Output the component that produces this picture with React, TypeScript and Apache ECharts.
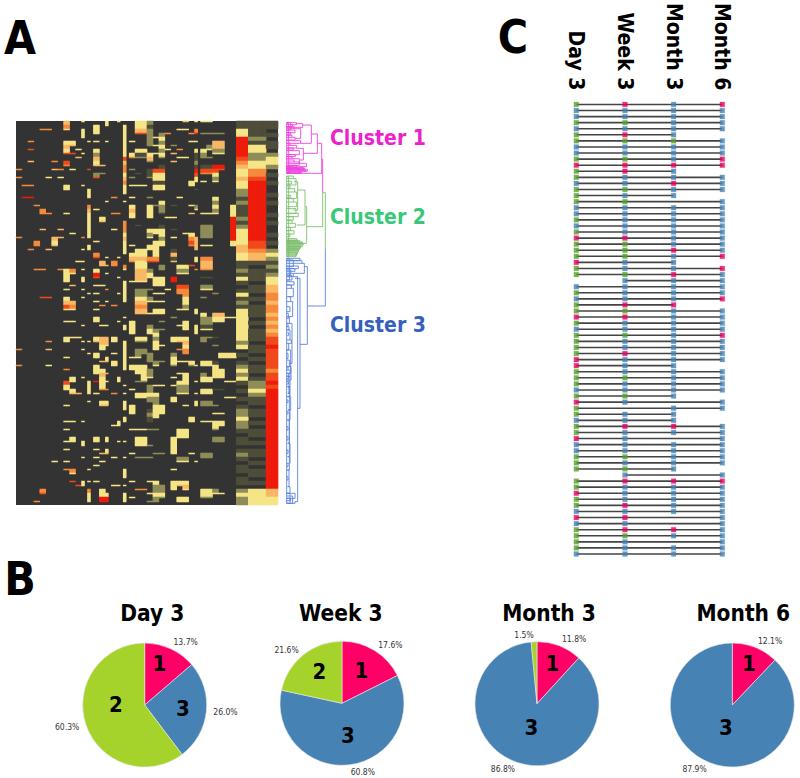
import React, { useEffect, useRef } from "react";
import * as echarts from "echarts";

const FONT = '"DejaVu Sans Condensed", "DejaVu Sans", sans-serif';

// ---- Panel A: heatmap (44 columns, 96 rows). Sparse tokens "column:level" per row.
const heatRows: string[] = [
  "8:4 11:3 15:3 17:3 20:3 21:3 22:2 28:4 30:3 31:3 32:3",
  "8:5 13:3 15:3 18:3 20:3 21:3 22:1",
  "4:5 5:5 8:3 11:3 13:3 18:3 20:4 21:4 22:2 27:3 28:3 30:5",
  "11:3 13:3 18:3 20:6 21:6 22:2 24:2 25:5 29:5 30:7 31:2 32:2 33:2 34:2",
  "11:3 18:3 22:2 24:3 23:3",
  "2:5 8:3 9:3 12:3 13:3 15:3 18:3 19:3 22:2 24:2 29:3 30:3 33:4 34:4",
  "8:4 9:4 18:3 22:2 24:3 23:3 26:2 32:2 33:4 34:4",
  "2:6 8:3 10:3 13:3 18:3 20:3 21:3 24:2 25:3 27:5 30:3 31:3 32:3 33:2 34:2",
  "8:6 9:6 11:3 13:2 18:3 19:3 20:1 21:1 22:3 23:3 24:3 26:4 30:1 31:2 33:3 34:3",
  "10:4 13:4 18:6 19:5 20:2 21:2 22:4 24:2 27:3 28:3 30:1 31:2 32:2",
  "2:4 6:5 8:6 13:3 18:4 22:2 26:4 30:2",
  "8:5 13:4 14:4 18:5 24:1 30:1 31:1 32:1 33:7 34:7",
  "0:5 6:4 7:5 9:3 12:6 18:5 19:2 22:1 23:6 24:6 30:7 31:6 32:6 33:6 34:6",
  "13:2 14:2 18:3 20:1 22:1 23:3 24:3 30:6 31:5 32:5 33:3",
  "0:5 5:3 7:3 13:6 18:4 19:2 22:2 23:3 24:3 30:3 33:2",
  "18:5 23:1 24:1 29:3 30:3 31:3 33:3",
  "1:5 2:5 8:3 11:3 18:3 19:3 20:3 21:3 23:3 24:3 29:3",
  "8:3 12:3 18:3 23:3 24:3 30:1",
  "12:3 18:3",
  "1:7 2:7 12:3 16:5 19:3 22:2 27:3 33:3",
  "15:3 18:3 24:3 33:2",
  "3:5 12:5 19:3 22:3 23:2 24:2 26:1 29:3 30:2 33:3 36:3",
  "4:5 12:4 13:3 19:4 22:3 24:2 30:3 33:2 36:3",
  "4:5 5:5 8:3 12:3 16:5 17:5 19:3 22:3 24:1 29:4 31:3 32:3 33:3 36:3",
  "12:3 14:3 19:3 22:3 25:3 26:3 36:7",
  "12:3 14:4 18:5 36:7",
  "12:3 18:5 20:1 24:1 31:2 32:2 36:7",
  "4:4 7:4 12:3 16:3 18:5 22:3 23:3 24:3 26:1 31:2 32:2 36:7",
  "9:3 12:3 18:3 22:2 23:3 24:3 28:3 29:3 31:2 32:2 36:7",
  "0:5 6:4 7:4 11:5 12:3 18:4 22:3 24:2 26:3 29:5 30:4 31:2 32:2 36:7",
  "3:5 6:3 13:3 18:3 23:3 24:3 29:6 30:4 36:3",
  "3:5 6:4 12:3 18:3 19:3 22:3 23:3 24:3 29:5 30:4 31:3 32:3 36:3",
  "2:5 5:4 11:3 12:3 18:3 20:3 21:3 22:3 23:3 26:1 30:4",
  "13:5 18:3 19:3 20:3 21:3 23:3 26:4",
  "13:6 15:3 17:3 19:4 20:4 21:4 22:5 23:5 26:1 30:3 31:5 32:5",
  "10:3 11:3 14:4 16:5 19:5 20:3 21:3 22:6 23:6 26:4 30:3 31:4 32:4",
  "14:4 15:4 16:5 18:5 20:3 21:3 24:2 27:3 28:3 29:6 31:4 32:4",
  "3:5 4:5 7:5 8:3 9:5 11:3 13:3 18:3 20:4 21:4 22:2 24:2 27:2 28:2 30:5 31:5 32:5",
  "8:3 9:3 13:7 15:3 20:4 21:4 22:3 27:3 28:3",
  "8:3 11:3 13:6 17:3 20:4 21:4 22:3 23:3 24:3 26:7 31:1 32:1",
  "8:3 11:3 18:3 19:3 20:3 21:3 23:3 24:3 26:7",
  "9:4 13:3 14:3 18:3 23:3 24:3 27:6 28:6 31:2 32:2",
  "8:3 11:3 15:5 18:3 20:2 21:2 22:2 25:3 27:5 28:5 31:3 32:3",
  "12:3 13:3 17:3 18:3 20:2 21:2 23:3 24:3 27:5 28:5 33:2",
  "4:6 5:6 8:3 11:3 18:3 20:3 21:3 22:2 28:3 31:2",
  "8:4 9:4 13:3 15:3 18:3 20:4 21:4 22:3 23:3 24:3 28:3",
  "8:6 9:5 14:5 16:5 20:5 21:5 28:2",
  "8:3 9:3 13:3 20:4 21:4 23:3 24:3 27:3 28:3 30:3",
  "20:4 21:4 22:3 23:3 24:3 30:3 31:3 33:4 34:4",
  "13:3 18:3 26:2 31:2 32:2 33:3 34:3 35:3 36:3",
  "8:3 9:3 13:3 17:3 19:3 24:2 28:3 31:2 32:2 33:3 34:3",
  "11:3 14:3 15:3 18:3 19:3 22:2 27:3 28:3 30:3 31:1 32:1",
  "18:3 19:3 22:3 23:2 24:2 28:3 30:3 31:3 32:3",
  "19:3 22:3 23:3 30:3",
  "8:3 9:3 10:3 13:3 14:4 15:4 16:3 20:3 21:3 23:2 26:3 27:3 28:3 31:2 32:2 33:1",
  "5:5 8:3 11:3 12:3 13:4 14:4 15:4 16:3 18:3 20:2 21:2 23:3 26:3 27:4 28:4 31:2",
  "14:3 15:3 18:3 23:3 24:3 28:3 33:2",
  "0:5 5:4 11:3 14:3 18:3 20:2 21:2 23:3 27:5 28:5",
  "12:3 13:3 16:3 18:3 20:2 21:2 22:2 26:2 28:5 34:3 35:3 36:3",
  "8:3 13:3 15:3 18:3 19:3 20:3 22:2 26:3 34:3 35:3 36:3",
  "14:4 15:4 16:3 18:3 22:2 23:2 24:2 26:3 27:3 28:3 29:3 31:3 32:3 33:1",
  "0:5 5:3 13:3 16:3 18:3 19:3 20:3 21:3 23:3 26:2 29:2 30:3 31:3 32:3 33:3",
  "8:5 13:3 14:3 18:3 19:3 20:3 21:3 22:2 33:3 34:3",
  "13:3 14:4 15:4 20:3 21:3 22:2 27:3 28:3 31:2 33:3 34:3",
  "9:3 11:3 14:3 17:3 21:3 22:3 26:3 28:3 31:3 32:3 33:3 34:3",
  "8:6 9:3 12:3 13:7 14:3 15:3 17:3 20:2 21:2 27:3 28:3 30:3 31:3 32:3 35:3 36:3",
  "8:3 12:3 14:3 18:3 22:2 23:3 24:3 26:3 27:2 28:2",
  "8:3 9:3 12:3 14:5 15:5 19:3 22:2 27:2 28:2 31:3 32:3 33:1 34:1",
  "9:4 10:4 12:3 13:3 16:5 18:3 20:3 21:3 22:3 23:3 27:3 28:3 30:3 31:3 32:3",
  "20:3 21:3 22:2 23:2 26:3 35:3 36:3",
  "12:3 14:3 15:3 18:3 22:2 23:2 26:3 30:3 31:2 32:2",
  "8:3 14:4 15:4 18:3 19:3 23:3 24:3 28:3 30:3 31:2 32:2 33:2",
  "18:3 19:3 22:1 23:3 24:3",
  "19:3 22:2 23:3 24:3 33:3 34:3",
  "18:3 22:1 23:3 29:3",
  "8:3 9:3 11:3 17:3 18:3 22:1 29:3 31:3 32:3 33:3 34:3",
  "16:3 17:3 33:3 34:3",
  "8:3 19:3 20:3 21:3 22:2 23:2 27:3 28:3 33:2",
  "27:3 28:3",
  "9:3 13:3 15:3 20:3 21:3 26:3 27:3 28:3 33:2 34:2",
  "8:3 9:3 11:3 13:3 15:3 17:3 18:3 20:3 21:3 26:3 33:2 34:2",
  "11:3 20:3 21:3 22:2 26:3",
  "8:3 13:3 15:3 26:3",
  "14:4 15:4 19:3 23:2 24:2 26:3 29:3 31:2 32:2",
  "11:3 13:3 16:3 18:3 20:2 21:2 22:2 27:2 28:2 31:2 32:2",
  "6:3 8:3 14:3 27:3 28:3 30:3",
  "13:3",
  "8:5 9:5 12:3 18:3 26:3",
  "9:3 18:3",
  "18:3",
  "9:6 11:3 12:3 13:3 19:3 22:3 23:3 26:3 27:3 28:3",
  "10:6 11:3 16:3 17:3 18:3 23:2 24:2 26:3 27:4 28:4",
  "4:5 12:5 14:3 20:5 21:5 23:2 24:2 26:3 28:3 31:3 32:3 33:2",
  "4:6 12:3 14:3 15:3 18:3 22:3 23:3 24:3 31:3 32:3 33:3 34:3",
  "12:3 14:7 15:7 18:3 19:3 23:2 24:2 27:3 28:3 31:2 32:2",
  "3:5 12:3 14:7 15:7 18:3 22:2 23:2 27:3 28:3",
];
const narrowCols = [11, 12, 15, 17, 18, 30];
const heatCols37to38 = [
  "11","33","77777","654","33433","221211","1212","3333443","31","12131013121",
  "3333333323","0101","2323","10101012","2322","101101210110110","2322",
].join("");
const heatCols39to41 = [
  "111121","33","2233","5567","77777777777777","66544","101110110101",
  "110101110110101101","2232","11011010110101101011010","3333",
].join("");
const heatCols42to43 = [
  "11010110","2332","01010010100101001010","232","1212","33","4455455",
  "454545667666665","6676","7777777777777777777777777","4433",
].join("");

const heatColors = ["#333333", "#4d4d3a", "#8f8d58", "#f5e586", "#f9b866", "#f58a3c", "#ef4a1c", "#ee1c0c"];

// ---- Panel A: dendrogram brackets [y1, x1, xMerge, x2, y2]
const cluster1Links = [
  [148,155,158,158,248],[100,142,155,50,190],[72,124,142,100,130],[45,98,124,92,100],
  [38,50,80,60,44],[41,80,98,50,52],[44,50,68,50,50],[50,50,72,50,56],[56,72,92,75,85],[60,50,75,50,68],
  [68,50,62,50,74],[76,50,66,50,82],[82,66,75,50,90],[92,50,92,50,100],[100,50,60,50,106],[106,60,80,50,114],
  [114,50,70,50,120],[115,80,100,88,150],[122,50,88,50,134],[134,50,76,50,140],[140,50,66,50,146],[146,66,88,50,160],
  [150,50,72,50,156],[156,72,88,50,166],[160,88,110,50,170],[172,50,100,50,178],[178,50,112,50,184],[166,50,80,50,172],
  [186,50,95,50,190],[38,50,50,50,190],[174,50,104,50,176],[180,50,108,50,182],[40,50,56,50,190],[38,50,62,50,60],
  [168,50,60,50,190],[176,50,90,50,188],
];
const cluster2Links = [
  [248,158,166,166,415],[248,158,158,110,350],[290,105,110,97,400],[240,83,105,80,345],[215,72,83,70,300],
  [198,50,70,50,206],[206,70,78,50,225],[214,50,64,50,222],[228,50,60,50,236],[236,60,74,50,246],[246,74,80,50,265],
  [256,50,62,50,262],[266,50,70,50,276],[276,70,80,50,290],[296,50,78,50,310],[310,50,85,50,320],[320,50,70,50,330],
  [332,50,66,50,340],[340,66,76,50,352],[352,50,62,50,362],[362,50,72,50,372],[372,50,60,50,380],[386,50,80,50,392],
  [392,50,90,50,396],[396,50,97,50,400],[400,50,100,50,405],[405,50,97,50,410],[410,50,92,50,415],[415,50,88,50,420],
  [420,50,85,50,426],[426,50,82,50,432],[432,50,78,50,440],[198,50,50,50,440],[200,50,56,50,440],
  [390,50,84,50,394],[398,50,94,50,402],[408,50,90,50,412],[418,50,86,50,422],[428,50,80,50,436],
];
const cluster3Links = [
  [415,166,166,112,588],[470,103,112,90,703],[505,75,90,83,895],[500,70,83,75,1175],
  [445,50,90,50,452],[452,50,96,50,460],[460,96,103,70,490],[468,50,85,50,476],[476,50,75,50,484],[490,50,70,50,500],
  [497,50,66,50,510],[515,50,72,50,525],[525,50,64,50,535],[535,64,70,55,560],[560,50,62,50,575],[575,62,68,56,620],
  [590,50,60,50,605],[620,50,58,50,640],[640,58,66,58,760],[660,50,60,50,690],[690,60,64,55,700],[700,50,56,50,720],
  [720,50,62,52,790],[750,50,58,50,770],[770,53,63,50,810],[810,53,57,53,850],[830,50,60,50,860],[860,53,62,53,900],
  [900,55,60,50,930],[930,52,58,52,1000],[1000,55,60,55,1060],[1040,52,58,50,1080],[1080,52,57,52,1130],[1130,55,60,50,1150],
  [1150,50,75,50,1165],[1158,50,68,50,1180],[1165,50,62,50,1172],[1175,75,75,50,1180],
  [640,50,54,50,650],[668,52,56,52,676],[770,50,54,50,780],[790,50,56,50,798],[800,50,56,50,806],[815,50,55,50,822],
  [870,50,54,50,878],[905,50,54,50,912],[950,50,54,50,960],[980,50,54,50,990],[1020,50,54,50,1030],[1060,50,54,50,1070],
  [1100,50,54,50,1110],[445,50,50,50,1180],[445,50,58,50,510],[450,50,70,50,470],[480,50,62,50,495],
  [780,54,60,54,800],[800,54,60,54,830],[830,54,58,54,850],[650,52,57,52,660],[610,50,55,50,625],[730,50,54,50,745],
  [850,55,58,55,1040],[1150,50,60,50,1180],
];
const clusterLabels = [
  { text: "Cluster 1", y: 137.5, color: "#ee22cc" },
  { text: "Cluster 2", y: 217, color: "#38c878" },
  { text: "Cluster 3", y: 325, color: "#3560c0" },
];

// ---- Panel B: pies
const clusterColors: Record<string, string> = { "1": "#ff0066", "2": "#a6d32b", "3": "#4682b4" };
const pieDay3 = [["1", 13.7], ["3", 26.0], ["2", 60.3]];
const pieWeek3 = [["1", 17.6], ["3", 60.8], ["2", 21.6]];
const pieMonth3 = [["1", 11.8], ["3", 86.8], ["2", 1.5]];
const pieMonth6 = [["1", 12.1], ["3", 87.9]];
const pieTitles = ["Day 3", "Week 3", "Month 3", "Month 6"];

// ---- Panel C: cluster membership per patient ("0" = no sample): Day 3, Week 3, Month 3, Month 6
const timePoints = ["Day 3", "Week 3", "Month 3", "Month 6"];
const patients = [
  "2131","3333","3333","2233","3333","2130","2223","3333","3333","2231","1111","2130","2333","3313","2233",
  "2330","2203","3333","3333","2333","3333","2333","1133","2233","2213","2231","1330","2331","2213","0333",
  "3333","2333","3331","2110","2233","1133","2333","3333","2231","2333","2333","2133","1333","1330","2333",
  "2233","2333","3333","2230","1303","2033","2330","3330","2113","2333","1303","3333","3333","2233","2333",
  "2230","0303","2111","2333","1333","2333","2133","3333","1103","3303","2113","2233","2303","2333","3333",
];
const markerColors: Record<string, string> = { "1": "#e8005f", "2": "#58a02c", "3": "#4682b4" };

const panelLetters = [
  { text: "A", x: 20, y: 38 },
  { text: "B", x: 20, y: 579 },
  { text: "C", x: 513, y: 37 },
];
const sliceDigits = [
  ["1", 159.3, 663], ["3", 183, 708.7], ["2", 116, 704.3],
  ["1", 361.3, 670.7], ["2", 319.3, 671.3], ["3", 348, 735.3],
  ["1", 552.3, 663], ["3", 531.3, 727.3],
  ["1", 749, 663], ["3", 726, 727.3],
];

const SUB_X = 2;
const SUB_Y = 4;

function heatData() {
  const cells: number[][] = heatRows.map(() => new Array(44).fill(0));
  heatRows.forEach((row, r) => {
    row.split(" ").forEach((tok) => {
      const [c, v] = tok.split(":").map(Number);
      cells[r][c] = v;
    });
    const put = (cols: number[], s: string) => {
      const v = Number(s[r] || 0);
      cols.forEach((c) => (cells[r][c] = v));
    };
    put([37, 38], heatCols37to38);
    put([39, 40, 41], heatCols39to41);
    put([42, 43], heatCols42to43);
  });
  const out: number[][] = [];
  cells.forEach((row, r) =>
    row.forEach((v, c) => {
      if (!v) return;
      const full = c >= 37 || (r + 1 < cells.length && cells[r + 1][c] > 0);
      const subCols = narrowCols.includes(c) ? [c * SUB_X] : [c * SUB_X, c * SUB_X + 1];
      subCols.forEach((sc) => {
        const depth = full ? SUB_Y : 1;
        for (let d = 0; d < depth; d++) out.push([sc, r * SUB_Y + d, v]);
      });
    })
  );
  return out;
}

function linkSeries(data: number[][], color: string) {
  return {
    type: "custom",
    coordinateSystem: "cartesian2d",
    xAxisIndex: 1,
    yAxisIndex: 1,
    clip: false,
    silent: true,
    encode: { x: [1, 2, 3], y: [0, 4] },
    data,
    renderItem: (_: any, api: any) => {
      const [y1, x1, xm, x2, y2] = [0, 1, 2, 3, 4].map((i) => api.value(i));
      return {
        type: "polyline",
        shape: { points: [api.coord([x1, y1]), api.coord([xm, y1]), api.coord([xm, y2]), api.coord([x2, y2])] },
        style: { stroke: color, lineWidth: 0.9, fill: "none" },
      };
    },
  };
}

function pieSeries(values: any[], cx: number, cy: number) {
  return {
    type: "pie",
    center: [cx, cy],
    radius: 62,
    startAngle: 90,
    avoidLabelOverlap: false,
    silent: true,
    data: values.map(([name, value]) => ({ name, value, itemStyle: { color: clusterColors[name] } })),
    itemStyle: { borderColor: "#e8e8e8", borderWidth: 0.6 },
    label: {
      show: true,
      position: "outside",
      distanceToLabelLine: 0,
      fontFamily: FONT,
      fontSize: 8.5,
      color: "#333",
      formatter: (p: any) => p.value.toFixed(1) + "%",
    },
    labelLine: { show: false, length: 7, length2: 0 },
  };
}

export default function App() {
  const ref = useRef<HTMLDivElement>(null);
  useEffect(() => {
    document.body.style.margin = "0";
    const chart = echarts.init(ref.current!, undefined, { renderer: "svg" });
    const connectors = patients.map((p, row) => {
      const present = p.split("").map((c, i) => (c === "0" ? -1 : i)).filter((i) => i >= 0);
      return [present[0], present[present.length - 1], row];
    });
    const markers: any[] = [];
    patients.forEach((p, row) =>
      p.split("").forEach((c, i) => {
        if (c !== "0") {
          markers.push({
            value: [i, row],
            itemStyle: { color: markerColors[c], borderColor: markerColors[c] + "40", borderWidth: 1 },
          });
        }
      })
    );
    const hidden = { show: false };
    chart.setOption({
      animation: false,
      backgroundColor: "#fff",
      textStyle: { fontFamily: FONT },
      title: pieTitles.map((text, i) => ({
        text,
        left: [152.3, 340.7, 549, 743.3][i],
        top: 613,
        padding: 0,
        textAlign: "center",
        textVerticalAlign: "middle",
        textStyle: { fontFamily: FONT, fontWeight: "bold", fontSize: 22.5, color: "#000" },
      })),
      grid: [
        { left: 16, top: 121, width: 262, height: 384, show: true, backgroundColor: "#333333", borderWidth: 0 },
        { left: 286.67, top: 121, width: 44, height: 384 },
        { left: 576.3, top: 103.7, width: 146, height: 450.3 },
      ],
      xAxis: [
        { type: "category", gridIndex: 0, show: false, data: Array.from({ length: 44 * SUB_X }, (_, i) => i) },
        { type: "value", gridIndex: 1, min: 50, max: 182, ...hidden },
        {
          type: "category",
          gridIndex: 2,
          position: "top",
          boundaryGap: false,
          data: timePoints,
          axisLine: hidden,
          axisTick: hidden,
          splitLine: hidden,
          axisLabel: {
            rotate: 90,
            interval: 0,
            margin: 14,
            padding: [0, 0, 6, 0],
            fontFamily: FONT,
            fontWeight: "bold",
            fontSize: 21,
            color: "#000",
          },
        },
      ],
      yAxis: [
        { type: "category", gridIndex: 0, show: false, inverse: true, data: Array.from({ length: 96 * SUB_Y }, (_, i) => i) },
        { type: "value", gridIndex: 1, min: 33, max: 1185, inverse: true, ...hidden },
        { type: "category", gridIndex: 2, show: false, inverse: true, boundaryGap: false, data: patients.map((_, i) => i) },
      ],
      visualMap: {
        type: "piecewise",
        show: false,
        seriesIndex: 0,
        dimension: 2,
        pieces: heatColors.map((color, value) => ({ value, color })),
      },
      series: [
        { type: "heatmap", xAxisIndex: 0, yAxisIndex: 0, silent: true, data: heatData() },
        linkSeries(cluster1Links, "#ee44dd"),
        linkSeries(cluster2Links, "#7fbf6f"),
        linkSeries(cluster3Links, "#5a82dc"),
        {
          type: "custom",
          coordinateSystem: "cartesian2d",
          xAxisIndex: 2,
          yAxisIndex: 2,
          silent: true,
          encode: { x: [0, 1], y: 2 },
          data: connectors,
          z: 1,
          renderItem: (_: any, api: any) => {
            const a = api.coord([api.value(0), api.value(2)]);
            const b = api.coord([api.value(1), api.value(2)]);
            return {
              type: "line",
              shape: { x1: a[0], y1: a[1], x2: b[0], y2: b[1] },
              style: { stroke: "#444", lineWidth: 1.6 },
            };
          },
        },
        {
          type: "scatter",
          xAxisIndex: 2,
          yAxisIndex: 2,
          symbol: "rect",
          symbolSize: 4.8,
          silent: true,
          z: 3,
          data: markers,
        },
        pieSeries(pieDay3, 144.7, 705),
        pieSeries(pieWeek3, 342, 703.3),
        pieSeries(pieMonth3, 537, 703.7),
        pieSeries(pieMonth6, 732.3, 705),
      ],
      graphic: [
        ...panelLetters.map((l) => ({
          type: "text",
          x: l.x,
          y: l.y,
          style: { text: l.text, font: `bold 46px ${FONT}`, fill: "#000", textAlign: "center", textVerticalAlign: "middle" },
        })),
        ...clusterLabels.map((l) => ({
          type: "text",
          x: 330,
          y: l.y,
          style: { text: l.text, font: `bold 21px ${FONT}`, fill: l.color, textAlign: "left", textVerticalAlign: "middle" },
        })),
        ...sliceDigits.map(([text, x, y]) => ({
          type: "text",
          x,
          y,
          z: 100,
          style: { text, font: `bold 22px ${FONT}`, fill: "#000", textAlign: "center", textVerticalAlign: "middle" },
        })),
      ],
    });
    return () => chart.dispose();
  }, []);
  return <div ref={ref} style={{ position: "fixed", left: 0, top: 0, width: 800, height: 778 }} />;
}
